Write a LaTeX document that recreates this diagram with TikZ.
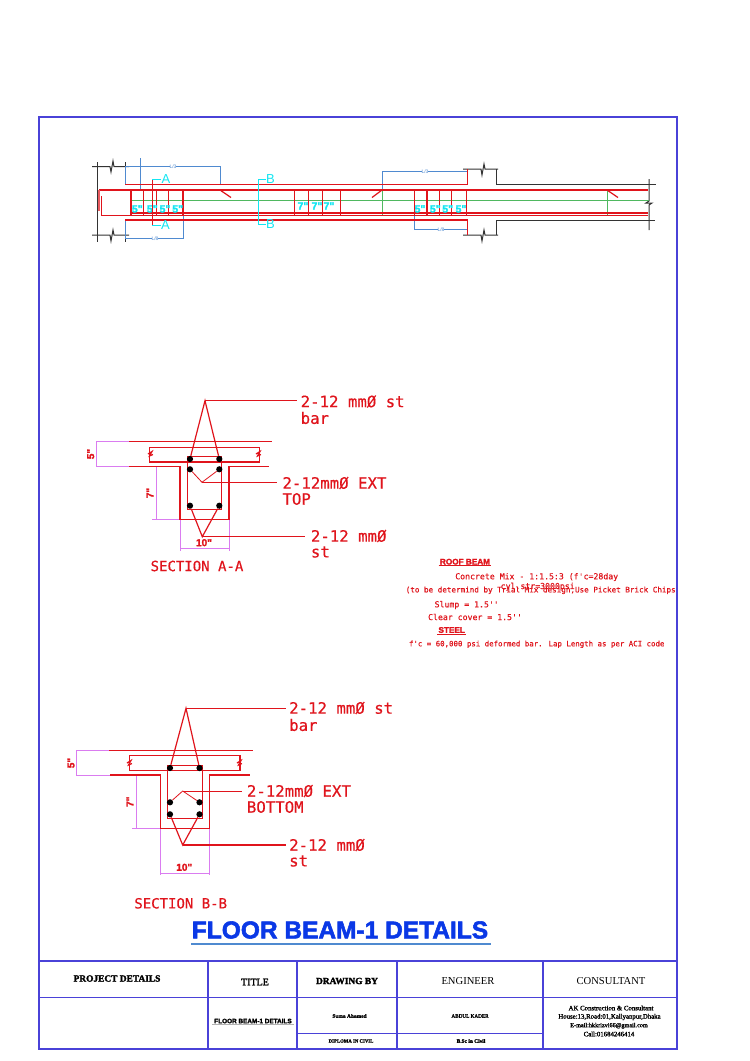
\documentclass[tikz,border=0pt]{standalone}
\usepackage{fontspec}
\setmainfont{Liberation Serif}
\setsansfont{Liberation Sans}
\newfontfamily\cadfont[FakeBold=0.4]{DejaVu Sans Mono}
\newfontfamily\heavyserif[FakeBold=2.2]{Liberation Serif}
\newfontfamily\heavysans[FakeBold=2.2]{Liberation Sans}
\definecolor{cadred}{HTML}{E0141C}
\definecolor{cadcyan}{HTML}{12E6F2}
\definecolor{cadblue}{HTML}{4F8AD0}
\definecolor{cadgreen}{HTML}{4FB860}
\definecolor{cadpink}{HTML}{DA7CF0}
\definecolor{framecol}{HTML}{4A42D8}
\definecolor{titlecol}{HTML}{0A38E6}
\tikzset{
	beam/.style={draw=cadred,line width=1.2pt},
	rebarline/.style={draw=cadred,line width=2.2pt},
	column/.style={draw=black!80,line width=1pt},
	dim/.style={draw=cadblue,line width=0.9pt},
	sect/.style={draw=cadcyan,line width=1pt},
	pinkdim/.style={draw=cadpink,line width=0.95pt},
	frameline/.style={draw=framecol,line width=1.2pt},
	rebar/.style={circle,fill=black,inner sep=0pt,minimum size=6.2pt},
	bigtext/.style={inner sep=0pt,anchor=west,text=cadred,font=\cadfont\fontsize{15.7}{15}\selectfont},
	sectext/.style={inner sep=0pt,text=cadred,font=\cadfont\fontsize{14}{14}\selectfont},
	notetext/.style={inner sep=0pt,text=cadred,font=\cadfont\fontsize{7.4}{8}\selectfont},
	widenote/.style={inner sep=0pt,text=cadred,font=\cadfont\fontsize{8.2}{8}\selectfont},
	notehead/.style={inner sep=1pt,text=cadred,font=\heavysans\bfseries\fontsize{8.2}{8}\selectfont},
	dimtext/.style={inner sep=0pt,text=cadred,font=\heavysans\bfseries\fontsize{10}{10}\selectfont},
	stirtext/.style={inner sep=0pt,text=cadcyan,font=\heavysans\bfseries\fontsize{10.5}{10}\selectfont},
	secmark/.style={inner sep=0pt,text=cadcyan,font=\sffamily\fontsize{13}{13}\selectfont},
	lentext/.style={inner sep=0pt,text=cadblue,font=\sffamily\fontsize{5}{5}\selectfont},
	headcell/.style={inner sep=0pt,font=\heavyserif\bfseries\fontsize{9.4}{9}\selectfont},
	smallcell/.style={inner sep=0pt,font=\heavyserif\bfseries\fontsize{5.4}{6}\selectfont},
	addrcell/.style={inner sep=0pt,font=\heavyserif\fontsize{6.8}{6}\selectfont}
}
\begin{document}
\begin{tikzpicture}[x=1pt,y=-1pt]
	\useasboundingbox (0,0) rectangle (750,1061);
	\fill[white] (0,0) rectangle (750,1061);

	\draw[frameline] (39,117) rectangle (677,1049);
	\draw[frameline] (39,961) -- (677,961);
	\draw[frameline] (39,997.5) -- (677,997.5);
	\draw[frameline] (297,1033.5) -- (543,1033.5);
	\draw[frameline] (208,961) -- (208,1049);
	\draw[frameline] (297,961) -- (297,1049);
	\draw[frameline] (397,961) -- (397,1049);
	\draw[frameline] (543,961) -- (543,1049);

	\draw[column] (97.3,162) -- (97.3,242);
	\draw[column] (92,166.7) -- (110,166.7) -- (111,172) -- (113,161) -- (114,166.7) -- (129,166.7);
	\draw[column] (92,235) -- (110,235) -- (111,241) -- (113,230) -- (114,235) -- (129,235);
	\draw[column] (125,162) -- (125,172);
	\draw[column] (125,230) -- (125,242);
	\draw[column] (463,169) -- (481,169) -- (482,175) -- (484,164) -- (485,169) -- (498,169);
	\draw[column] (463,235) -- (481,235) -- (482,241) -- (484,230) -- (485,235) -- (498,235);
	\draw[column] (496,169) -- (496,184.5) -- (656,184.5);
	\draw[column] (496,235) -- (496,220) -- (655,220);
	\draw[column] (649,179) -- (649,201) -- (646,203) -- (652,203) -- (649,205) -- (649,230);

	\draw[dim] (125,166.7) -- (220.5,166.7) -- (220.5,184.3);
	\draw[dim] (125,166.7) -- (125,184.3);
	\draw[dim] (125,220) -- (125,238.3) -- (183,238.3) -- (183,205);
	\draw[dim] (140,158) -- (140,190);
	\draw[dim] (382.7,190) -- (382.7,171.7) -- (467.7,171.7) -- (467.7,184.3);
	\draw[dim] (414.7,215) -- (414.7,229.3) -- (467.7,229.3) -- (467.7,220);
	\node[lentext,fill=white] (lentl) at (173,166.7) {L/3};
	\node[lentext,fill=white] (lenbl) at (155,238.3) {L/8};
	\node[lentext,fill=white] (lentr) at (425,171.7) {L/3};
	\node[lentext,fill=white] (lenbr) at (441,229.3) {L/8};

	\draw[beam] (125,184.3) -- (467.7,184.3) -- (467.7,169);
	\draw[beam] (125,220) -- (467.7,220) -- (467.7,235);
	\draw[cadgreen,line width=0.9pt] (131,200.3) -- (649,200.3);
	\draw[cadgreen,line width=0.9pt] (382.7,190) -- (382.7,215);
	\draw[cadgreen,line width=0.9pt] (607,190) -- (607,215);
	\draw[rebarline] (99,190) -- (647.7,190);
	\draw[beam] (220,190) -- (231,197.5);
	\draw[beam] (382,190) -- (372,197.5);
	\draw[beam] (607,190) -- (618,197.5);
	\draw[beam,cadred!70] (99,190) -- (99,211);
	\draw[beam] (101.7,196) -- (101.7,215.5) -- (647.7,215.5);
	\draw[beam] (131,213) -- (647.7,213);
	\foreach \sx in {131,143.3,156.3,168.3,183,294.3,308.7,322.7,340.3,414.7,427,439.3,451.7,466.3}
		\draw[beam] (\sx,190) -- (\sx,215.5);

	\node[stirtext] (sl1) at (137.3,209) {5"};
	\node[stirtext] (sl2) at (152.3,209) {5"};
	\node[stirtext] (sl3) at (165,209) {5"};
	\node[stirtext] (sl4) at (177.7,209) {5"};
	\node[stirtext] (sc1) at (303,206) {7"};
	\node[stirtext] (sc2) at (317,206) {7"};
	\node[stirtext] (sc3) at (329,206) {7"};
	\node[stirtext] (sr1) at (420,209) {5"};
	\node[stirtext] (sr2) at (435.3,209) {5"};
	\node[stirtext] (sr3) at (447.7,209) {5"};
	\node[stirtext] (sr4) at (461,209) {5"};

	\node[secmark] (a1) at (166,179.3) {A};
	\node[secmark] (a2) at (165.5,225) {A};
	\node[secmark] (b1) at (270.5,179) {B};
	\node[secmark] (b2) at (270.5,224.5) {B};
	\draw[beam,line width=1.4pt] (152.3,179.3) -- (152.3,225);
	\draw[sect] (a1) -- (152.3,179.3);
	\draw[sect] (a2) -- (152.3,225);
	\draw[sect] (b1) -- (258.3,179) -- (258.3,224.5) -- (b2);

	\draw[pinkdim] (129,441.7) -- (96.7,441.7) -- (96.7,466.7) -- (129,466.7);
	\draw[pinkdim] (180,466.7) -- (156,466.7) -- (156,519.3);
	\draw[pinkdim] (152,519.3) -- (180,519.3);
	\draw[pinkdim] (180,519.3) -- (180,551);
	\draw[pinkdim] (229,519.3) -- (229,551);
	\draw[pinkdim] (180,548.7) -- (229,548.7);
	\draw[beam] (129,441.7) -- (272,441.7);
	\draw[beam] (149.3,447.3) rectangle (259.3,462);
	\draw[beam] (148,454) -- (152,451.5) -- (149.5,456) -- (153,454.5);
	\draw[beam] (256,454) -- (260,451.5) -- (257.5,456) -- (261,454.5);
	\draw[beam] (129,466.7) -- (180,466.7) -- (180,519.3) -- (229,519.3) -- (229,466.7) -- (269.3,466.7);
	\draw[beam] (187.3,456.7) rectangle (221.7,509.7);

	\node[rebar] (a11) at (190,459) {};
	\node[rebar] (a12) at (219.3,459) {};
	\node[rebar] (a21) at (190,469.3) {};
	\node[rebar] (a22) at (219.3,469.3) {};
	\node[rebar] (a31) at (190,505.7) {};
	\node[rebar] (a32) at (219.3,505.7) {};
	\coordinate (atop) at (205,400.7);
	\coordinate (atopend) at (296.7,400.7);
	\coordinate (amid) at (202,482.3);
	\coordinate (amidend) at (276.7,482.3);
	\coordinate (abot) at (202.3,536.7);
	\coordinate (abotend) at (305,536.7);
	\node[bigtext] (atopa) at (300.5,401.5) {2-12 mmØ st};
	\node[bigtext] (atopb) at (300.5,418) {bar};
	\node[bigtext] (amida) at (282.3,483) {2-12mmØ EXT};
	\node[bigtext] (amidb) at (282.3,499) {TOP};
	\node[bigtext] (abota) at (310.7,536) {2-12 mmØ};
	\node[bigtext] (abotb) at (310.7,552) {st};
	\draw[beam] (a11) -- (atop) -- (a12);
	\draw[beam] (atop) -- (atopend);
	\draw[beam,line width=0.8pt] (a21) -- (amid) -- (a22);
	\draw[beam,line width=0.8pt] (amid) -- (amidend);
	\draw[beam] (a31) -- (abot) -- (a32);
	\draw[beam] (abot) -- (abotend);
	\node[dimtext,rotate=90] (ah) at (90.7,454) {5"};
	\node[dimtext,rotate=90] (aw) at (150,493) {7"};
	\node[dimtext] (ab) at (204,542.7) {10"};
	\node[sectext] (asec) at (197,566) {SECTION A-A};

	\draw[pinkdim] (109.3,750.3) -- (76.7,750.3) -- (76.7,775) -- (110,775);
	\draw[pinkdim] (160.7,775) -- (136,775) -- (136,828.3);
	\draw[pinkdim] (132,828.3) -- (160.7,828.3);
	\draw[pinkdim] (160.7,828.3) -- (160.7,875);
	\draw[pinkdim] (209.3,828.3) -- (209.3,875);
	\draw[pinkdim] (160.7,873.3) -- (209.3,873.3);
	\draw[beam] (109.3,750.3) -- (253.3,750.3);
	\draw[beam] (129.3,755.3) rectangle (240,770.7);
	\draw[beam] (127,763) -- (131,760.5) -- (128.5,765) -- (132,763.5);
	\draw[beam] (237,763) -- (241,760.5) -- (238.5,765) -- (242,763.5);
	\draw[beam] (110,775) -- (160.7,775) -- (160.7,828.3) -- (209.3,828.3) -- (209.3,775) -- (250,775);
	\draw[beam] (167.3,765.7) rectangle (202.3,818.3);

	\node[rebar] (b11) at (170,768) {};
	\node[rebar] (b12) at (199.5,768) {};
	\node[rebar] (b21) at (170,802.3) {};
	\node[rebar] (b22) at (199.5,802.3) {};
	\node[rebar] (b31) at (170,814.3) {};
	\node[rebar] (b32) at (199.5,814.3) {};
	\coordinate (btop) at (186,708.3);
	\coordinate (btopend) at (286,708.3);
	\coordinate (bmid) at (182.7,791);
	\coordinate (bmidend) at (241.7,791);
	\coordinate (bbot) at (182.7,845);
	\coordinate (bbotend) at (286,845);
	\node[bigtext] (btopa) at (289,708) {2-12 mmØ st};
	\node[bigtext] (btopb) at (289,725) {bar};
	\node[bigtext] (bmida) at (246.7,791) {2-12mmØ EXT};
	\node[bigtext] (bmidb) at (246.7,807) {BOTTOM};
	\node[bigtext] (bbota) at (289,845) {2-12 mmØ};
	\node[bigtext] (bbotb) at (289,861) {st};
	\draw[beam] (b11) -- (btop) -- (b12);
	\draw[beam] (btop) -- (btopend);
	\draw[beam,line width=0.8pt] (b21) -- (bmid) -- (b22);
	\draw[beam,line width=0.8pt] (bmid) -- (bmidend);
	\draw[beam] (b31) -- (bbot) -- (b32);
	\draw[beam] (bbot) -- (bbotend);
	\node[dimtext,rotate=90] (bh) at (71,763) {5"};
	\node[dimtext,rotate=90] (bw) at (130,801.7) {7"};
	\node[dimtext] (bb) at (184.3,867.3) {10"};
	\node[sectext] (bsec) at (180.7,903.3) {SECTION B-B};

	\node[notehead] (roof) at (465,561.7) {ROOF BEAM};
	\draw[beam] (roof.south west) -- (roof.south east);
	\node[widenote] (mix) at (536.7,577) {Concrete Mix - 1:1.5:3 (f'c=28day};
	\node[widenote] (cyl) at (537.7,586.7) {cyl.str=3000psi};
	\node[notetext,font=\cadfont\fontsize{7.6}{8}\selectfont] (trial) at (540.7,590.3) {(to be determind by Trial Mix design,Use Picket Brick Chips};
	\node[widenote] (slump) at (466.7,605) {Slump = 1.5''};
	\node[widenote] (cover) at (475,617) {Clear cover = 1.5''};
	\node[notehead] (steel) at (451.7,630) {STEEL};
	\draw[beam] (steel.south west) -- (steel.south east);
	\node[notetext] (grade) at (536.7,644.3) {f'c = 60,000 psi deformed bar. Lap Length as per ACI code};

	\node[inner sep=0pt,text=titlecol,font=\heavysans\bfseries\fontsize{24.5}{24}\selectfont] (maintitle) at (340,930) {FLOOR BEAM-1 DETAILS};
	\draw[cadblue,line width=1.2pt] (191,944) -- (491,944);

	\node[headcell] (project) at (117,978.5) {PROJECT DETAILS};
	\node[headcell,font=\heavyserif\fontsize{10}{9}\selectfont] (titlehead) at (255,982) {TITLE};
	\node[headcell] (drawn) at (347,981) {DRAWING BY};
	\node[headcell,font=\rmfamily\fontsize{10.6}{9}\selectfont] (engineer) at (468,981) {ENGINEER};
	\node[headcell,font=\rmfamily\fontsize{10.6}{9}\selectfont] (consultant) at (611,981) {CONSULTANT};
	\draw[gray!60,line width=1.8pt] (212,1024.5) -- (294,1024.5);
	\node[inner sep=0pt,font=\heavysans\bfseries\fontsize{6.4}{6}\selectfont] (floorcell) at (253,1021) {FLOOR BEAM-1 DETAILS};
	\node[smallcell] (suma) at (349.5,1016) {Suma Ahamed};
	\node[smallcell,font=\heavyserif\fontsize{5.2}{6}\selectfont] (abdul) at (470,1016) {ABDUL KADER};
	\node[smallcell,font=\heavyserif\bfseries\fontsize{4.8}{6}\selectfont] (diploma) at (351,1041) {DIPLOMA IN CIVIL};
	\node[smallcell] (bsc) at (471,1041) {B.Sc in Civil};
	\node[addrcell] (ak1) at (611,1008) {AK Construction  \& Consultant};
	\node[addrcell] (ak2) at (609.5,1017) {House:13,Road:01,Kallyanpur,Dhaka};
	\node[addrcell,font=\heavyserif\fontsize{6.2}{6}\selectfont] (ak3) at (609,1025.7) {E-mail:hkkrizvi66@gmail.com};
	\node[addrcell] (ak4) at (609,1034) {Call:01684246414};
\end{tikzpicture}
\end{document}
